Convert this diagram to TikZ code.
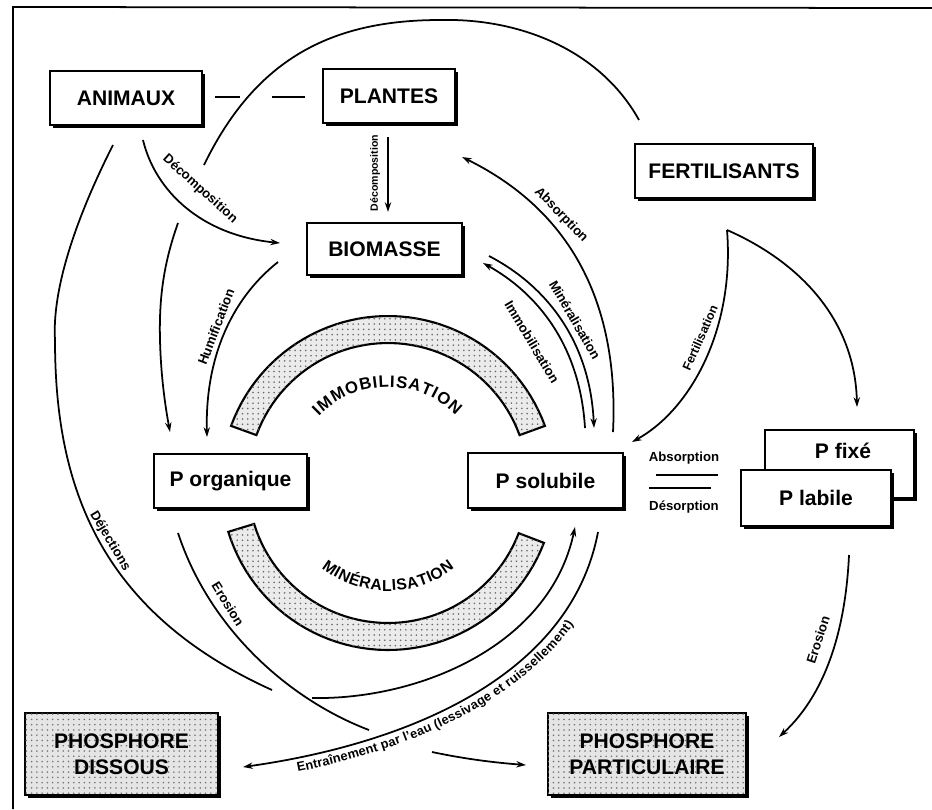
\documentclass[tikz,border=0pt]{standalone}
\usepackage{fontspec}
\setmainfont{Liberation Sans}
\usetikzlibrary{arrows.meta,calc,decorations.text,patterns,shadows}
\begin{document}
\begin{tikzpicture}[x=0.02cm,y=-0.02cm,line width=1pt,
  box/.style={draw,line width=1.1pt,fill=white,inner sep=0pt,align=center,
    font=\bfseries\fontsize{12}{15}\selectfont,
    drop shadow={shadow xshift=1.6pt,shadow yshift=-1.6pt,opacity=1,fill=black}},
  stipple/.style={fill=black!10,postaction={pattern=dots,pattern color=black!55}},
  band/.style={draw,line width=1.2pt,fill=black!8,postaction={pattern=dots,pattern color=black!60}},
  lab/.style={inner sep=0pt,font=\bfseries\fontsize{7.5}{9}\selectfont},
  smalllab/.style={inner sep=0pt,font=\bfseries\fontsize{6}{7}\selectfont},
  arr/.style={-{Stealth[length=5.5pt,width=3.6pt]}},
  rarr/.style={{Stealth[length=5.5pt,width=3.6pt]}-}]
\useasboundingbox (0,0) rectangle (932,809);
% frame
\draw (932,8) -- (13,7) -- (13,809);
% bands
\filldraw[band] plot[domain=160:20,samples=50] ({388+167*cos(\x)},{483-167*sin(\x)})
  -- plot[domain=20:160,samples=50] ({388+140*cos(\x)},{483-140*sin(\x)}) -- cycle;
\filldraw[band] plot[domain=197:339,samples=50] ({388+167*cos(\x)},{483-167*sin(\x)})
  -- plot[domain=339:197,samples=50] ({388+140*cos(\x)},{483-140*sin(\x)}) -- cycle;
\path[decorate,decoration={text along path,text align=fit to path,
  text={|\bfseries\fontsize{9.5}{11}\selectfont|IMMOBILISATION}}]
  plot[domain=136:45,samples=40] ({388+96*cos(\x)},{483-96*sin(\x)});
\path[decorate,decoration={text along path,text align=fit to path,
  text={|\bfseries\fontsize{9}{11}\selectfont|MINÉRALISATION}}]
  plot[domain=232:308,samples=40] ({388+108*cos(\x)},{483-108*sin(\x)});
% nodes
\node[box,minimum width=3.04cm,minimum height=1.08cm] (animaux) at (126,98) {ANIMAUX};
\node[box,minimum width=2.64cm,minimum height=1.08cm] (plantes) at (389,96) {PLANTES};
\node[box,minimum width=3.1cm,minimum height=1.04cm] (biomasse) at (384.5,249) {BIOMASSE};
\node[box,minimum width=3.56cm,minimum height=1.08cm] (fert) at (724,171) {FERTILISANTS};
\node[box,minimum width=3.06cm,minimum height=1.08cm] (porg) at (230.5,481) {P organique};
\node[box,minimum width=3.1cm,minimum height=1.1cm] (psol) at (545.5,480.5) {P solubile};
\node[box,minimum width=2.98cm,minimum height=1.36cm] (pfixe) at (839.5,464) {};
\node[inner sep=0pt,font=\bfseries\fontsize{12}{15}\selectfont] (pfixetxt) at (843,451) {P fixé};
\node[box,minimum width=3.0cm,minimum height=1.12cm] (plabile) at (816,498) {P labile};
\node[box,stipple,minimum width=3.86cm,minimum height=1.64cm] (pdiss) at (121.5,754) {PHOSPHORE\\DISSOUS};
\node[box,stipple,minimum width=3.96cm,minimum height=1.64cm] (ppart) at (647,754) {PHOSPHORE\\PARTICULAIRE};
% free ends
\coordinate (ap1) at (215,97); \coordinate (ap2) at (240,97);
\coordinate (ap3) at (272,97); \coordinate (ap4) at (305,97);
\coordinate (pb1) at (388,137); \coordinate (pb2) at (388,212);
\coordinate (ab1) at (143,140); \coordinate (ab2) at (280,243);
\coordinate (fa1) at (639,120); \coordinate (fa2) at (204,165);
\coordinate (fa3) at (178,223); \coordinate (fa4) at (170,432);
\coordinate (dj1) at (113,145); \coordinate (dj2) at (272,690);
\coordinate (dj3) at (312,698); \coordinate (dj4) at (575,527);
\coordinate (hu1) at (278,262); \coordinate (hu2) at (207,437);
\coordinate (abs1) at (613,432); \coordinate (abs2) at (462,157);
\coordinate (mi1) at (489,256); \coordinate (mi2) at (594,428);
\coordinate (im1) at (585,428); \coordinate (im2) at (483,263);
\coordinate (fz) at (727,230); \coordinate (fz1) at (632,442); \coordinate (fz2) at (857,407);
\coordinate (ad1) at (656,475); \coordinate (ad2) at (718,475);
\coordinate (ad3) at (649,488); \coordinate (ad4) at (711,488);
\coordinate (er1) at (849,555); \coordinate (er2) at (779,737);
\coordinate (el1) at (178,533); \coordinate (el2) at (369,730);
\coordinate (el3) at (432,752); \coordinate (el4) at (526,765);
\coordinate (en1) at (243,767); \coordinate (en2) at (598,532);
% connectors
\draw (ap1) -- (ap2);
\draw (ap3) -- (ap4);
\draw[arr] (pb1) -- (pb2);
\node[smalllab,rotate=90] (lpb) at (375,173) {Décomposition};
\draw[arr] (ab1) .. controls (155,190) and (200,235) .. (ab2);
\node[lab,rotate=-42] (lab) at (200,189) {Décomposition};
\draw (fa1) .. controls (600,50) and (520,18) .. (440,20) .. controls (330,20) and (255,60) .. (fa2);
\draw[arr] (fa3) .. controls (163,265) and (159,300) .. (160,340) .. controls (161,380) and (166,410) .. (fa4);
\draw (dj1) .. controls (75,220) and (52,290) .. (55,340) .. controls (55,480) and (95,610) .. (dj2);
\draw[arr] (dj3) .. controls (420,700) and (550,645) .. (dj4);
\node[lab,rotate=-59] (ldj) at (110,541) {Déjections};
\draw[arr] (hu1) .. controls (230,300) and (205,360) .. (hu2);
\node[lab,rotate=69] (lhu) at (216,327) {Humification};
\draw[arr] (abs1) .. controls (618,330) and (590,220) .. (abs2);
\node[lab,rotate=-46] (labs) at (561,215) {Absorption};
\draw[arr] (mi1) .. controls (545,285) and (590,340) .. (mi2);
\node[lab,rotate=-60] (lmi) at (575,320) {Minéralisation};
\draw[arr] (im1) .. controls (580,345) and (537,293) .. (im2);
\node[lab,rotate=-59] (lim) at (532,342) {Immobilisation};
\draw[arr] (fz) .. controls (735,330) and (690,410) .. (fz1);
\node[inner sep=0pt,font=\bfseries\fontsize{7}{8}\selectfont,rotate=66] (lfz) at (700,338) {Fertilisation};
\draw[arr] (fz) .. controls (800,262) and (855,320) .. (fz2);
\draw (ad1) -- (ad2);
\draw (ad3) -- (ad4);
\node[lab] (lad1) at (684,458) {Absorption};
\node[lab] (lad2) at (684,507) {Désorption};
\draw[arr] (er1) .. controls (846,620) and (830,690) .. (er2);
\node[lab,rotate=72] (ler) at (818,640) {Erosion};
\draw (el1) .. controls (210,630) and (290,700) .. (el2);
\draw[arr] (el3) .. controls (470,760) and (500,763) .. (el4);
\node[lab,rotate=-58] (lel) at (228,604) {Erosion};
\draw[rarr] (en1) .. controls (400,745) and (570,680) .. (en2);
\path[decorate,decoration={text along path,raise=-8pt,text align={left indent=30pt},
  text={|\bfseries\fontsize{7.3}{8}\selectfont|Entraînement par l'eau (lessivage et ruissellement)}}]
  (en1) .. controls (400,745) and (570,680) .. (en2);
\end{tikzpicture}
\end{document}
